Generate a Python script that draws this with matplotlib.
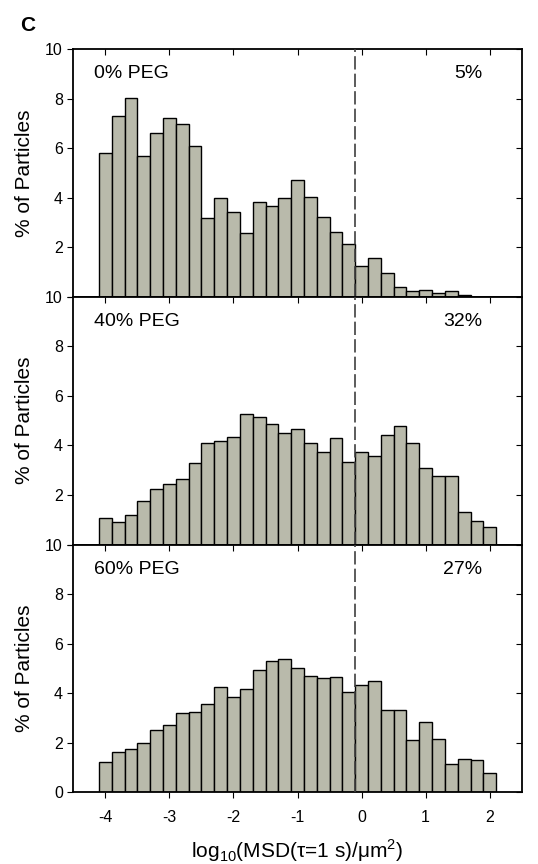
import numpy as np
import matplotlib
matplotlib.use('Agg')
import matplotlib.pyplot as plt

# bin centres, log10(MSD) in steps of 0.2
bins = np.round(np.arange(-4.0, 2.01, 0.2), 1)

# % of particles per bin
peg0 = [5.81, 7.32, 8.04, 5.68, 6.62, 7.24, 6.97, 6.08, 3.19, 4.01,
        3.41, 2.59, 3.85, 3.66, 4.01, 4.70, 4.04, 3.22, 2.62, 2.14,
        1.23, 1.55, 0.97, 0.39, 0.22, 0.27, 0.16, 0.22, 0.06, 0.0, 0.0]
peg40 = [1.06, 0.92, 1.21, 1.76, 2.23, 2.45, 2.65, 3.30, 4.10, 4.17,
         4.36, 5.27, 5.15, 4.88, 4.50, 4.68, 4.09, 3.75, 4.30, 3.35,
         3.73, 3.57, 4.41, 4.77, 4.12, 3.11, 2.75, 2.75, 1.31, 0.94, 0.71]
peg60 = [1.22, 1.61, 1.74, 1.97, 2.51, 2.72, 3.19, 3.23, 3.58, 4.24,
         3.83, 4.17, 4.95, 5.30, 5.38, 5.03, 4.68, 4.63, 4.64, 4.05,
         4.34, 4.50, 3.32, 3.33, 2.12, 2.83, 2.15, 1.13, 1.34, 1.30, 0.77]

panels = ['0% PEG', '40% PEG', '60% PEG']
fractions = ['5%', '32%', '27%']
series = [peg0, peg40, peg60]
cutoff = -0.1   # dashed threshold line

yticks = [0, 2, 4, 6, 8, 10]
xticks = [-4, -3, -2, -1, 0, 1, 2]

plt.rcParams['font.family'] = ['Liberation Sans', 'DejaVu Sans']
plt.rcParams['axes.unicode_minus'] = False

fig = plt.figure(figsize=(5.38, 8.64), dpi=100)

left, width = 0.1363, 0.8335
bottom0, h = 0.083, 0.2867

for i in range(3):
    ax = fig.add_axes([left, bottom0 + (2 - i) * h, width, h])
    ax.bar(bins, series[i], width=0.2, color='#b9baab',
           edgecolor='black', linewidth=1.0, zorder=2)
    ax.axvline(cutoff, color='#404040', lw=1.2, ls=(0, (8, 2.5)), zorder=3)
    ax.set_xlim(-4.5, 2.5)
    ax.set_ylim(0, 10)
    ax.set_yticks(yticks)
    # the "0" of the upper panels sits under the "10" of the panel below
    if i < 2:
        ax.set_yticklabels([''] + [str(v) for v in yticks[1:]])
    ax.set_xticks(xticks)
    ax.tick_params(axis='y', left=True, right=True, labelsize=11.5,
                   length=4, direction='out')
    ax.tick_params(axis='x', length=4, direction='out', labelsize=11.5, pad=9,
                   top=True)
    # ticks on right/top point inwards
    for t in ax.yaxis.get_major_ticks():
        t.tick2line.set_marker(matplotlib.lines.TICKLEFT)
    for t in ax.xaxis.get_major_ticks():
        t.tick2line.set_marker(matplotlib.lines.TICKDOWN)
    for s in ax.spines.values():
        s.set_linewidth(1.3)
    if i < 2:
        ax.tick_params(axis='x', labelbottom=False)
    ax.set_ylabel('% of Particles', fontsize=15, labelpad=8)
    ax.text(-4.17, 9.0, panels[i], fontsize=14, va='center', ha='left')
    ax.text(1.88, 9.0, fractions[i], fontsize=14, va='center', ha='right')

ax.set_xlabel(r'log$_{\mathregular{10}}$(MSD(τ=1 s)/μm$^{\mathregular{2}}$)',
              fontsize=15, labelpad=9)

fig.text(0.037, 0.971, 'C', fontsize=15, fontweight='bold', va='center')

fig.savefig('out.png', dpi=100)
